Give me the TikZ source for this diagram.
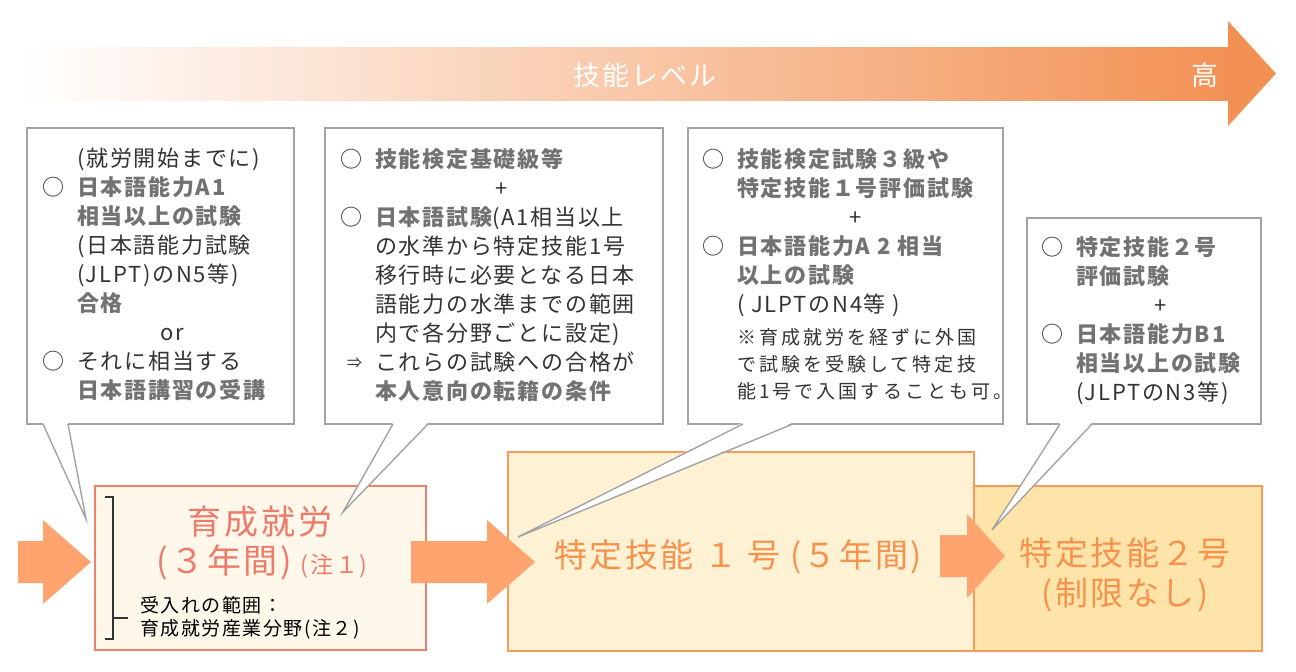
\documentclass[tikz,border=0pt]{standalone}
\usepackage{fontspec}
\setmainfont{Noto Sans CJK JP}[LetterSpace=8]
\usetikzlibrary{positioning, calc}
\definecolor{callgray}{HTML}{A3A3A3}
\definecolor{hlgray}{HTML}{727272}
\definecolor{txtdark}{HTML}{333333}
\definecolor{arrowor}{HTML}{FFA46E}
\definecolor{levelor}{HTML}{F39154}
\definecolor{ikuline}{HTML}{EE8070}
\definecolor{ikufill}{HTML}{FFF8EA}
\definecolor{ikutext}{HTML}{ED7B6B}
\definecolor{tokuline}{HTML}{F89B5A}
\definecolor{tokufill}{HTML}{FEF1D4}
\definecolor{tokufillb}{HTML}{FFE4AA}
\definecolor{tokutext}{HTML}{F7924D}

\newcommand\hl[1]{{\bfseries\color{hlgray}#1}}
\newcommand\maru{\llap{○\hspace{13pt}}}
\newcommand\yaji{\llap{\raisebox{2pt}{\fontsize{15}{15}\selectfont ⇒}\hspace{13pt}}}

\tikzset{
  callout/.style={draw=callgray, line width=1.4pt, fill=white, anchor=north west, inner sep=0pt, outer sep=0pt},
  callline/.style={draw=callgray, line width=1.4pt},
  calltext/.style={anchor=north west, inner sep=0pt, align=left, text=txtdark, font=\fontsize{22}{29}\selectfont},
  stagebox/.style={anchor=north west, inner sep=0pt, outer sep=0pt, line width=2pt},
  bigarrow/.style={fill=arrowor},
}

\begin{document}
\begin{tikzpicture}[x=1pt, y=-1pt]
\useasboundingbox (0,0) rectangle (1296,672);

% 上部:技能レベルの矢印
\shade[left color=white, right color=levelor] (22,47) rectangle (1229,100);
\fill[levelor] (1228,21) -- (1276,73.5) -- (1228,126) -- cycle;
\node[text=white, font=\fontsize{27}{27}\selectfont] (level) at (645,75) {技能レベル};
\node[text=white, font=\fontsize{27}{27}\selectfont] (high) at (1205,75) {高};

% 下部:三つの段階
\node[stagebox, draw=ikuline, fill=ikufill, minimum width=331pt, minimum height=164pt] (iku) at (95,486) {};
\node[stagebox, draw=tokuline, fill=tokufill, minimum width=466pt, minimum height=199pt] (tokua) at (508,452) {};
\node[stagebox, draw=tokuline, fill=tokufillb, minimum width=288pt, minimum height=165pt] (tokub) at (974,486) {};

% 太い矢印
\foreach \xa/\xb/\xt/\yc in {18/43/91/562, 411/487/535/562, 940/967/1005/556}
  \fill[bigarrow] ({\xa},{\yc-21}) -- ({\xb},{\yc-21}) -- ({\xb},{\yc-42}) -- ({\xt},{\yc})
    -- ({\xb},{\yc+42}) -- ({\xb},{\yc+21}) -- ({\xa},{\yc+21}) -- cycle;

% 育成就労の中身
\draw[line width=1.2pt, draw=txtdark] ($(iku.north west)+(10,11)$) -- ++(8,0) -- ++(0,142) -- ++(-8,0);
\draw[line width=1.2pt, draw=txtdark] ($(iku.north west)+(18,132)$) -- ++(15,0);
\node[font=\fontsize{34}{34}\selectfont, text=ikutext] (ikuname) at (260,522) {育成就労};
\node[font=\fontsize{34}{34}\selectfont, text=ikutext] (ikuyear) at (224,562) {(３年間)};
\node[font=\fontsize{23}{23}\selectfont, text=ikutext, anchor=base west, inner sep=0pt] (ikunote) at ($(ikuyear.base east)+(5,0)$) {(注１)};
\node[anchor=north west, align=left, inner sep=0pt, font=\fontsize{19}{23}\selectfont] (ikurange) at (140,596) {受入れの範囲：\\育成就労産業分野(注２)};

% 特定技能
\node[font=\fontsize{33}{33}\selectfont, text=tokutext] (tokuaname) at (738,557) {特定技能 １ 号 (５年間)};
\node[font=\fontsize{33}{33}\selectfont, text=tokutext] (tokubname) at (1125,553) {特定技能２号};
\node[font=\fontsize{33}{33}\selectfont, text=tokutext] (tokublim) at (1125,595) {(制限なし)};

% 吹き出し
\node[callout, minimum width=267pt, minimum height=296pt] (ca) at (27,128) {};
\node[callout, minimum width=338pt, minimum height=296pt] (cb) at (325,128) {};
\node[callout, minimum width=315pt, minimum height=296pt] (cc) at (688,128) {};
\node[callout, minimum width=234pt, minimum height=206pt] (cd) at (1027,218) {};

\foreach \c/\a/\b/\tx/\ty in {ca/16/41/86/519, cb/68/103/343/512, cc/55/105/518/537, cd/33/65/992/530} {
  \coordinate (\c-tip) at (\tx,\ty);
  \fill[white] ($(\c.south west)+(\a,-1.5)$) -- (\c-tip) -- ($(\c.south west)+(\b,-1.5)$) -- cycle;
  \draw[callline] ($(\c.south west)+(\a,0)$) -- (\c-tip) -- ($(\c.south west)+(\b,0)$);
}

\node[calltext] (cat) at (77,148) {%
(就労開始までに)\\
\maru\hl{日本語能力A1}\\
\hl{相当以上の試験}\\
(日本語能力試験\\
(JLPT)のN5等)\\
\hl{合格}\\
\hspace*{83pt}or\\
\maru それに相当する\\
\hl{日本語講習の受講}};

\node[calltext] (cbt) at (375,148) {%
\maru\hl{技能検定基礎級等}\\
\hspace*{120pt}+\\
\maru\hl{日本語試験}(A1相当以上\\
の水準から特定技能1号\\
移行時に必要となる日本\\
語能力の水準までの範囲\\
内で各分野ごとに設定)\\
\yaji これらの試験への合格が\\
\hl{本人意向の転籍の条件}};

\node[calltext] (cct) at (737,148) {%
\maru\hl{技能検定試験３級や}\\
\hl{特定技能１号評価試験}\\
\hspace*{112pt}+\\
\maru\hl{日本語能力A 2 相当}\\
\hl{以上の試験}\\
( JLPTのN4等 )};
\node[calltext, font=\fontsize{19}{27}\selectfont\addfontfeature{LetterSpace=16}] (ccn) at (737,328) {%
※育成就労を経ずに外国\\
で試験を受験して特定技\\
能1号で入国することも可。};

\node[calltext] (cdt) at (1076,236) {%
\maru\hl{特定技能２号}\\
\hl{評価試験}\\
\hspace*{78pt}+\\
\maru\hl{日本語能力B1}\\
\hl{相当以上の試験}\\
(JLPTのN3等)};

\end{tikzpicture}
\end{document}
